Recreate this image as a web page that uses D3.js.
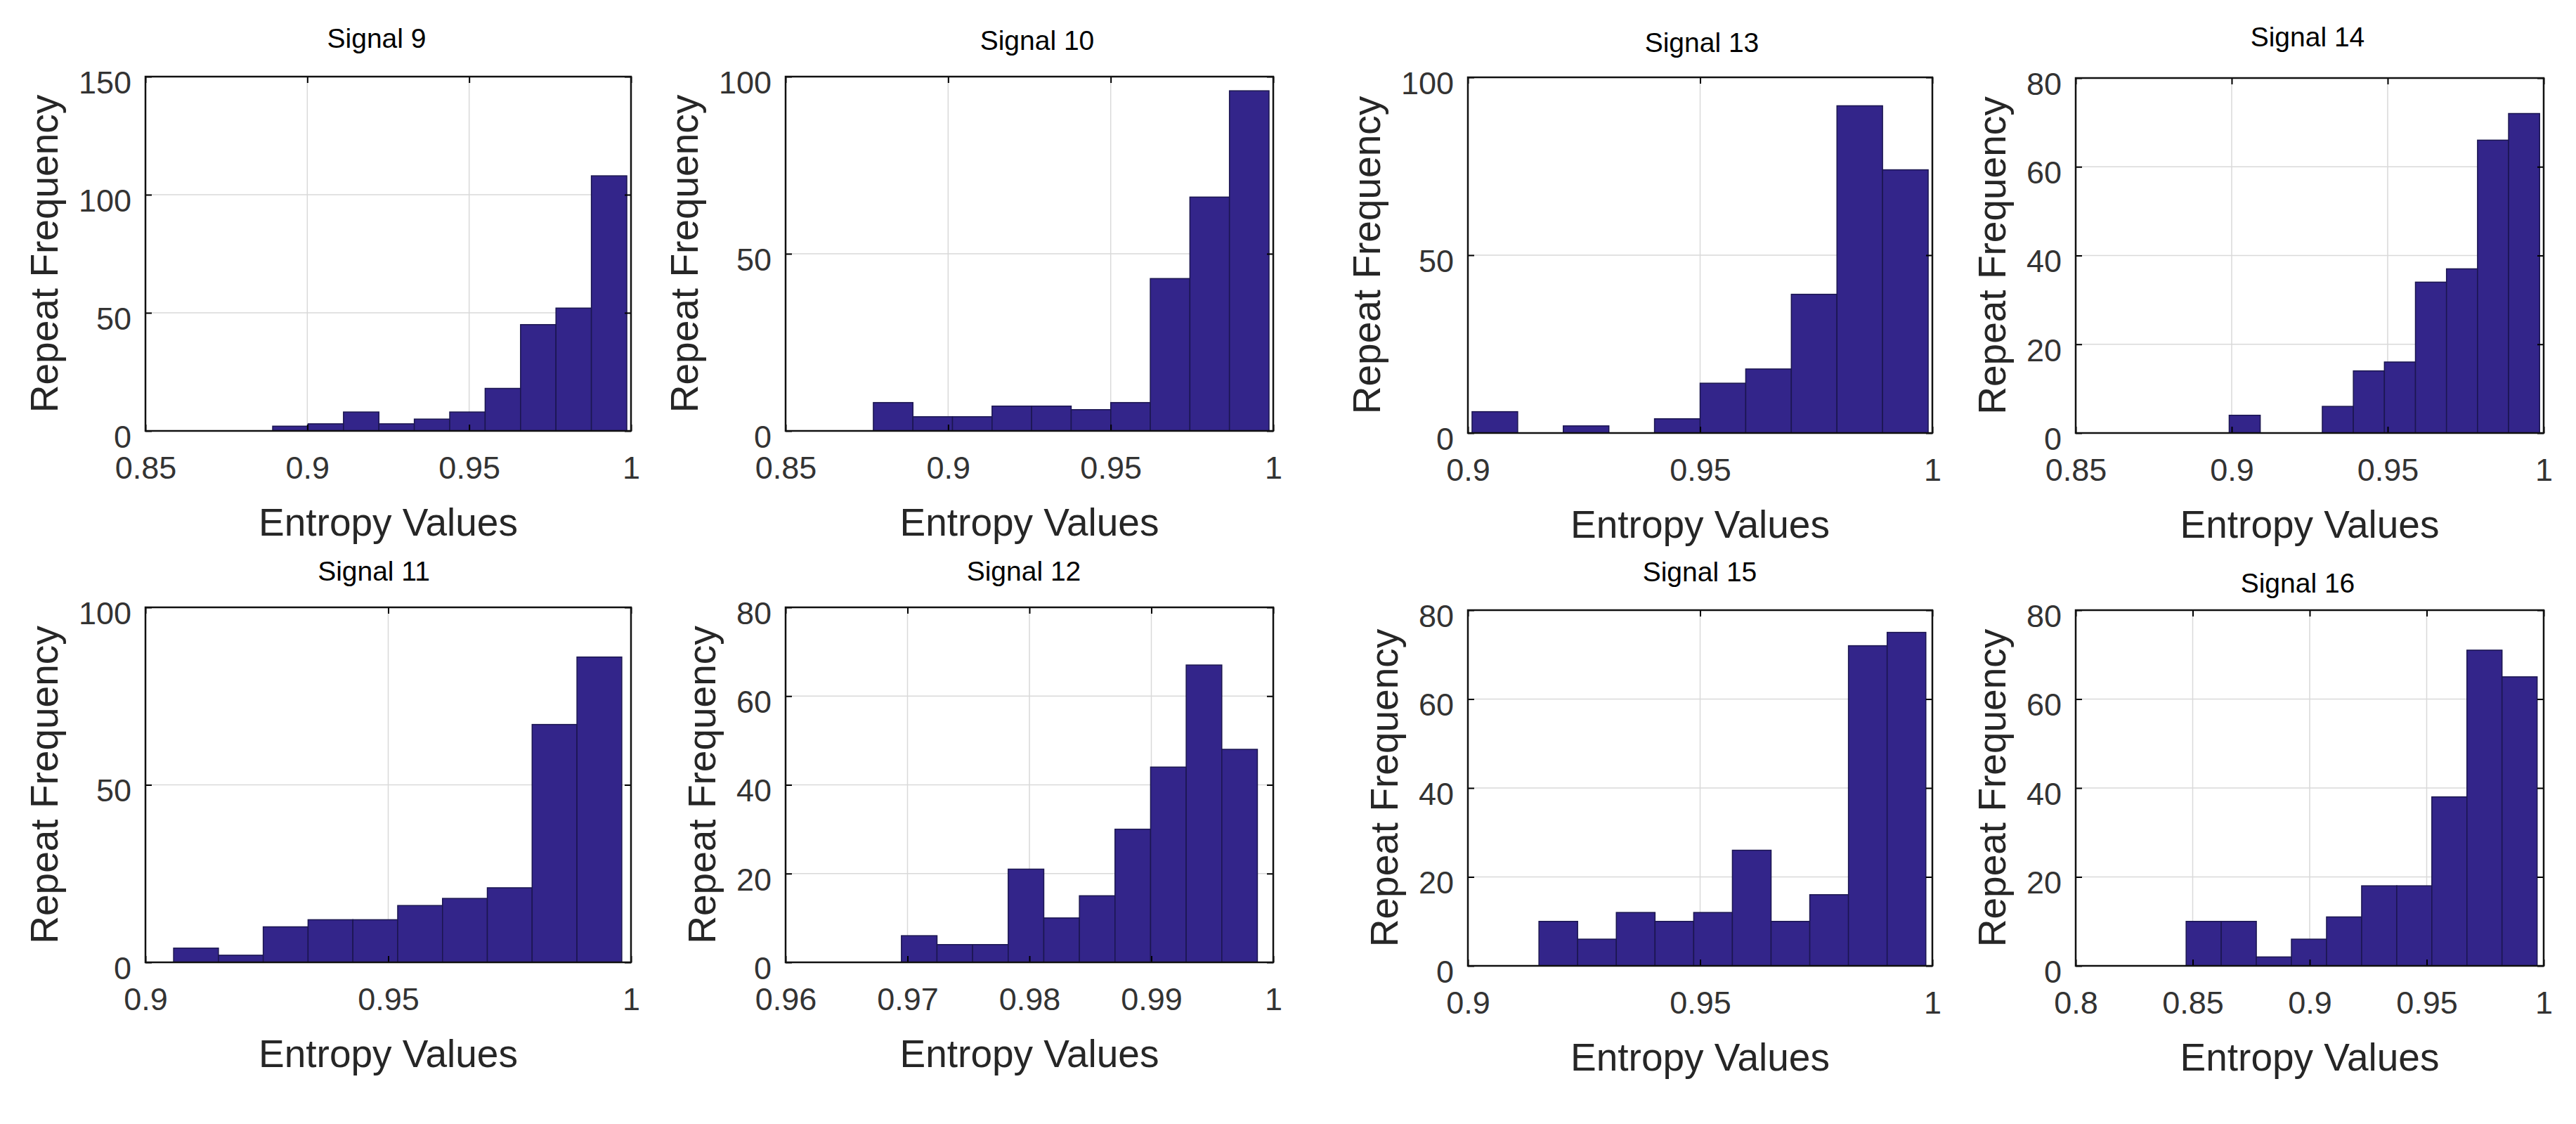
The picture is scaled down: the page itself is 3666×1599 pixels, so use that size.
<!DOCTYPE html>
<html>
<head>
<meta charset="utf-8">
<script src="https://d3js.org/d3.v7.min.js"></script>
<style>
  body { margin: 0; background: #fff; }
  text { font-family: "Liberation Sans", Arial, sans-serif; }
</style>
</head>
<body>
<div id="chart"></div>
<script>
const width = 3666,
    height = 1599;

// dati
const titles = ["Signal 9", "Signal 10", "Signal 13", "Signal 14",
                "Signal 11", "Signal 12", "Signal 15", "Signal 16"];

const xDomains = [[0.85, 1], [0.85, 1], [0.9, 1], [0.85, 1],
                  [0.9, 1], [0.96, 1], [0.9, 1], [0.8, 1]];

const xTicks = [
    [0.85, 0.9, 0.95, 1],
    [0.85, 0.9, 0.95, 1],
    [0.9, 0.95, 1],
    [0.85, 0.9, 0.95, 1],
    [0.9, 0.95, 1],
    [0.96, 0.97, 0.98, 0.99, 1],
    [0.9, 0.95, 1],
    [0.8, 0.85, 0.9, 0.95, 1]
];

const yMaxes = [150, 100, 100, 80, 100, 80, 80, 80];

const yTicks = [
    [0, 50, 100, 150],
    [0, 50, 100],
    [0, 50, 100],
    [0, 20, 40, 60, 80],
    [0, 50, 100],
    [0, 20, 40, 60, 80],
    [0, 20, 40, 60, 80],
    [0, 20, 40, 60, 80]
];

// min / max of the entropy values of each signal (10 equal bins in between)
const binRanges = [[0.8893, 0.9987], [0.877, 0.9987], [0.9009, 0.9991], [0.8992, 0.9987],
                   [0.9058, 0.9981], [0.9695, 0.9987], [0.9153, 0.9986], [0.8472, 0.9972]];

const counts = [
    [2, 3, 8, 3, 5, 8, 18, 45, 52, 108],
    [8, 4, 4, 7, 7, 6, 8, 43, 66, 96],
    [6, 0, 2, 0, 4, 14, 18, 39, 92, 74],
    [4, 0, 0, 6, 14, 16, 34, 37, 66, 72],
    [4, 2, 10, 12, 12, 16, 18, 21, 67, 86],
    [6, 4, 4, 21, 10, 15, 30, 44, 67, 48],
    [10, 6, 12, 10, 12, 26, 10, 16, 72, 75],
    [10, 10, 2, 6, 11, 18, 18, 38, 71, 65]
];

const xLabel = "Entropy Values";
const yLabel = "Repeat Frequency";

// posizione dei pannelli
const boxes = [
    { l: 207, r: 898, t: 109, b: 613, tx: 536, ty: 68 },
    { l: 1118, r: 1812, t: 109, b: 613, tx: 1476, ty: 71 },
    { l: 2089, r: 2750, t: 110, b: 616, tx: 2422, ty: 74 },
    { l: 2954, r: 3620, t: 111, b: 616, tx: 3284, ty: 66 },
    { l: 207, r: 898, t: 864, b: 1369, tx: 532, ty: 826 },
    { l: 1118, r: 1812, t: 864, b: 1369, tx: 1457, ty: 826 },
    { l: 2089, r: 2750, t: 868, b: 1374, tx: 2419, ty: 827 },
    { l: 2954, r: 3620, t: 868, b: 1374, tx: 3270, ty: 843 }
];

const barColor = "#33258a",
    edgeColor = "#1b1650",
    gridColor = "#d9d9d9",
    labelColor = "#333333";

const svg = d3.select("#chart")
    .append("svg")
    .attr("width", width)
    .attr("height", height)
    .attr("viewBox", `0 0 ${width} ${height}`);

svg.append("rect")
    .attr("width", width)
    .attr("height", height)
    .attr("fill", "#fff");

const fmt = d3.format("~g");

titles.forEach((title, i) => {
    const box = boxes[i];
    const w = box.r - box.l,
        h = box.b - box.t;

    const x = d3.scaleLinear().domain(xDomains[i]).range([0, w]);
    const y = d3.scaleLinear().domain([0, yMaxes[i]]).range([h, 0]);

    const g = svg.append("g")
        .attr("transform", `translate(${box.l}, ${box.t})`);

    // griglia
    g.append("g")
        .selectAll("line.vgrid")
        .data(xTicks[i].slice(1, -1))
        .join("line")
        .attr("x1", d => x(d)).attr("x2", d => x(d))
        .attr("y1", 0).attr("y2", h)
        .attr("stroke", gridColor)
        .attr("stroke-width", 1.5);

    g.append("g")
        .selectAll("line.hgrid")
        .data(yTicks[i].slice(1, -1))
        .join("line")
        .attr("x1", 0).attr("x2", w)
        .attr("y1", d => y(d)).attr("y2", d => y(d))
        .attr("stroke", gridColor)
        .attr("stroke-width", 1.5);

    // barre dell'istogramma
    const [lo, hi] = binRanges[i];
    const step = (hi - lo) / counts[i].length;
    const bins = counts[i].map((c, k) => ({ x0: lo + k * step, x1: lo + (k + 1) * step, c: c }));

    g.append("g")
        .selectAll("rect")
        .data(bins.filter(d => d.c > 0))
        .join("rect")
        .attr("x", d => x(d.x0))
        .attr("width", d => x(d.x1) - x(d.x0))
        .attr("y", d => y(d.c))
        .attr("height", d => y(0) - y(d.c))
        .attr("fill", barColor)
        .attr("stroke", edgeColor)
        .attr("stroke-width", 1.5);

    // assi
    const xAxis = g.append("g")
        .attr("transform", `translate(0, ${h})`)
        .call(d3.axisBottom(x).tickValues(xTicks[i]).tickFormat(fmt)
            .tickSizeInner(-9).tickSizeOuter(0).tickPadding(36));

    const yAxis = g.append("g")
        .call(d3.axisLeft(y).tickValues(yTicks[i]).tickFormat(fmt)
            .tickSizeInner(-9).tickSizeOuter(0).tickPadding(20));

    g.append("g")
        .call(d3.axisTop(x).tickValues(xTicks[i]).tickFormat("")
            .tickSizeInner(-9).tickSizeOuter(0));

    g.append("g")
        .attr("transform", `translate(${w}, 0)`)
        .call(d3.axisRight(y).tickValues(yTicks[i]).tickFormat("")
            .tickSizeInner(-9).tickSizeOuter(0));

    g.selectAll(".domain").remove();
    g.selectAll(".tick line")
        .attr("stroke", "#000")
        .attr("stroke-width", 2);

    xAxis.selectAll("text")
        .attr("font-size", 45)
        .attr("font-family", "Liberation Sans, Arial, sans-serif")
        .attr("fill", labelColor);

    yAxis.selectAll("text")
        .attr("font-size", 45)
        .attr("font-family", "Liberation Sans, Arial, sans-serif")
        .attr("dy", "0.52em")
        .attr("fill", labelColor);

    // box
    g.append("rect")
        .attr("width", w)
        .attr("height", h)
        .attr("fill", "none")
        .attr("stroke", "#111")
        .attr("stroke-width", 2.5);

    // titolo
    svg.append("text")
        .text(title)
        .attr("x", box.tx)
        .attr("y", box.ty)
        .attr("text-anchor", "middle")
        .attr("font-size", 39)
        .attr("fill", "#000");

    // etichette degli assi
    g.append("text")
        .text(xLabel)
        .attr("x", w / 2)
        .attr("y", h + 149)
        .attr("text-anchor", "middle")
        .attr("font-size", 55)
        .attr("fill", "#262626");

    let maxW = 0;
    yAxis.selectAll("text").each(function () {
        maxW = Math.max(maxW, this.getComputedTextLength());
    });

    g.append("text")
        .text(yLabel)
        .attr("transform", `translate(${-(maxW + 50)}, ${h / 2}) rotate(-90)`)
        .attr("text-anchor", "middle")
        .attr("font-size", 55)
        .attr("fill", "#262626");
});
</script>
</body>
</html>
